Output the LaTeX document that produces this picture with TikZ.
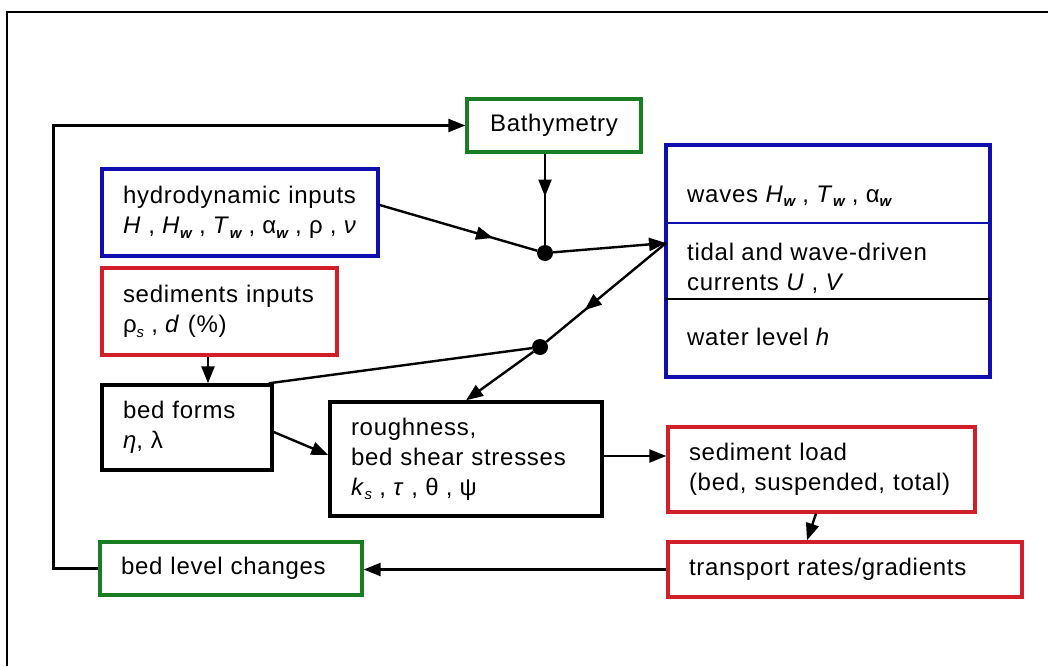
\documentclass[tikz,border=0pt]{standalone}
\usepackage{fontspec}
\setmainfont{Liberation Sans}[LetterSpace=3]
\usetikzlibrary{arrows.meta,decorations.markings,calc}
\definecolor{bgreen}{RGB}{25,125,35}
\definecolor{bblue}{RGB}{15,15,175}
\definecolor{bred}{RGB}{210,30,40}
\newcommand{\wsub}{\raisebox{-0.35ex}{\fontsize{15}{15}\selectfont\bfseries\itshape w}}
\newcommand{\ssub}{\raisebox{-0.35ex}{\fontsize{15}{15}\selectfont\itshape s}}
\newcommand{\cm}{\hspace{0.3em},\hspace{0.3em}}
\begin{document}
\begin{tikzpicture}[x=1pt,y=-1pt,
  font=\fontsize{24}{30}\selectfont,
  box/.style={draw, line width=3.4pt, rectangle, inner xsep=21pt, inner ysep=0pt, align=left},
  txt/.style={inner sep=0pt, align=left, anchor=west},
  conn/.style={line width=2.4pt},
  tip/.style={-{Triangle[length=17pt,width=13pt]}},
  midtip/.style={postaction={decorate,decoration={markings,mark=at position #1 with {\arrow{Triangle[length=17pt,width=13pt]}}}}},
  junction/.style={circle, fill, inner sep=0pt, minimum size=16pt}]
\useasboundingbox (0,0) rectangle (1048,666);
% frame
\draw[line width=2pt] (7,666) -- (7,12) -- (1048,12);

% boxes
\node[box, draw=bgreen, minimum width=174pt, minimum height=53pt, align=center] (bathy) at (554,125.5) {Bathymetry};
\node[box, draw=bblue, text width=234pt, minimum height=87pt] (hydro) at (240,212.5)
  {hydrodynamic inputs\\\mbox{\textit{H}\cm\textit{H}\wsub\cm\textit{T}\wsub\cm α\wsub\cm ρ\cm\textit{ν}}};
\node[box, draw=bred, text width=193pt, minimum height=87pt] (sedin) at (219.5,311.5)
  {sediments inputs\\ρ\ssub\cm\textit{d} (\%)};
\node[box, draw=black, text width=128pt, minimum height=85pt] (bedforms) at (187,427.5)
  {bed forms\\\textit{η}, λ};
\node[box, draw=black, text width=230pt, minimum height=114pt] (rough) at (466,459)
  {roughness,\\bed shear stresses\\\textit{k}\ssub\cm\textit{τ}\cm θ\cm ψ};
\node[box, draw=bblue, minimum width=324pt, minimum height=232pt] (waves) at (828,261) {};
\draw[bblue, line width=2.4pt] (666,223) -- (990,223);
\draw[black, line width=2.4pt] (666,299) -- (990,299);
\node[txt] (wavestxt) at (687,196) {waves \textit{H}\wsub\cm\textit{T}\wsub\cm α\wsub};
\node[txt] (currents) at (687,268) {tidal and wave-driven\\currents \textit{U}\cm\textit{V}};
\node[txt] (wlevel) at (687,337) {water level \textit{h}};
\node[box, draw=bred, text width=265pt, minimum height=85pt] (sedload) at (821.5,469.5)
  {sediment load\\\mbox{(bed, suspended, total)}};
\node[box, draw=bred, text width=312pt, minimum height=55pt] (transport) at (845,569.5)
  {transport rates/gradients};
\node[box, draw=bgreen, text width=220pt, minimum height=53pt] (bedlevel) at (231,568.5)
  {bed level changes};

% junctions
\node[junction] (dot1) at (545,253) {};
\node[junction] (dot2) at (540,347) {};
\coordinate (wp) at (666,243);

% connectors
\draw[conn, midtip=0.72] ([yshift=7.5pt]hydro.east) -- (dot1);
\draw[conn, midtip=0.47] (bathy.south -| dot1) -- (dot1);
\draw[conn, tip] (dot1) -- (wp);
\draw[conn, midtip=0.68] (wp) -- (dot2);
\draw[conn, tip] (dot2) -- (rough.north);
\draw[conn] (dot2) -- ([xshift=-5pt]bedforms.north east);
\draw[conn, tip] ([xshift=-11.5pt]sedin.south) -- ([xshift=-11.5pt]sedin.south |- bedforms.north);
\draw[conn, tip] ([yshift=-4.5pt]bedforms.east) -- ([yshift=4pt]rough.west);
\draw[conn, tip] ([yshift=3pt]rough.east) -- ([yshift=3pt]rough.east -| sedload.west);
\draw[conn, tip] ([xshift=-5.5pt]sedload.south) -- ([xshift=-38pt]transport.north);
\draw[conn, tip] (transport.west) -- (transport.west -| bedlevel.east);
\draw[conn, tip] (bedlevel.west) -- ++(-45,0) |- (bathy.west);
\end{tikzpicture}
\end{document}
